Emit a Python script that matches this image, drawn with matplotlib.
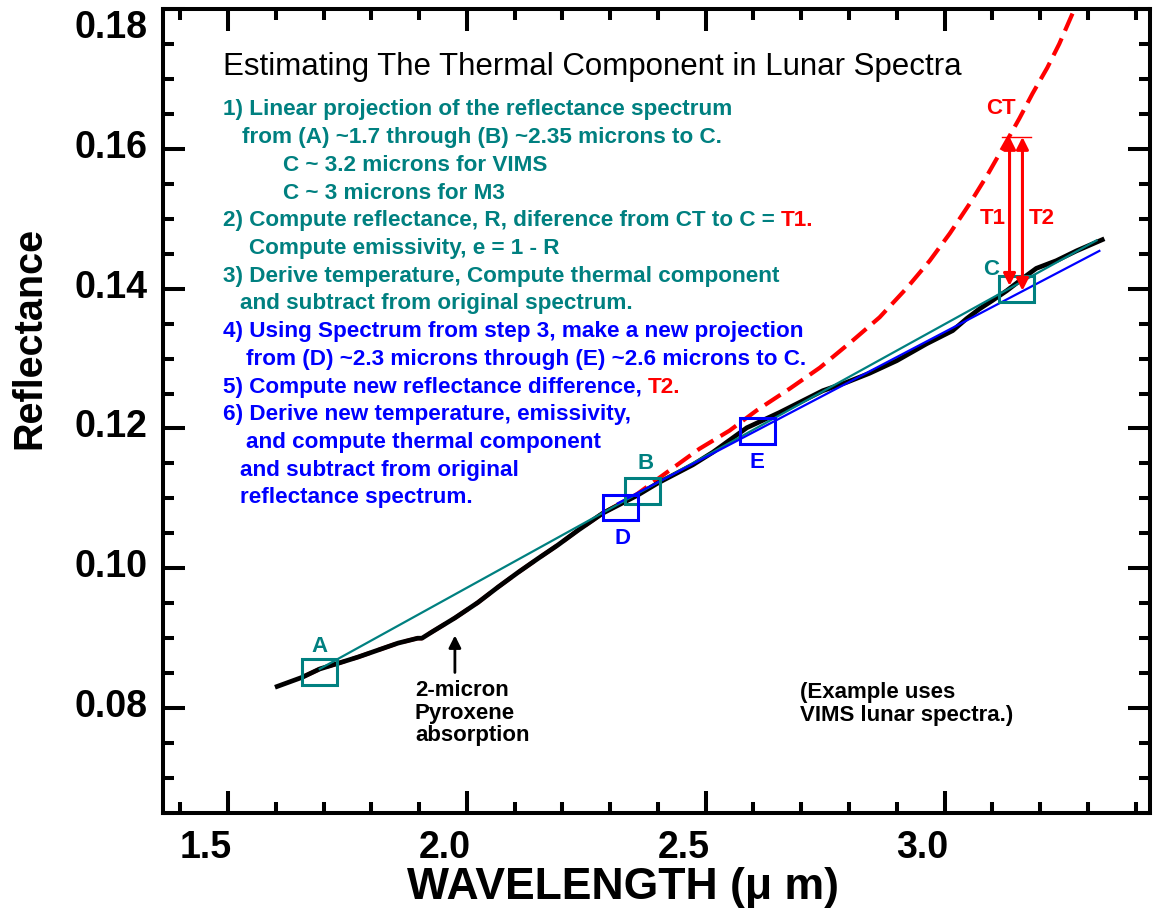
import matplotlib
matplotlib.use('Agg')
import matplotlib.pyplot as plt
from matplotlib.patches import Rectangle
from matplotlib.ticker import MultipleLocator, FormatStrFormatter
from matplotlib.transforms import ScaledTranslation

plt.rcParams['font.family'] = ['Liberation Sans', 'DejaVu Sans']
plt.rcParams['font.weight'] = 'bold'

TEAL = '#008080'
BLUE = '#0000ff'
RED = '#ff0000'

# observed lunar spectrum (black)
wave_obs = [1.603, 1.655, 1.692, 1.730, 1.772, 1.814, 1.856, 1.897, 1.906, 1.927,
            1.975, 2.023, 2.065, 2.107, 2.149, 2.190, 2.232, 2.264, 2.285, 2.356,
            2.400, 2.473, 2.515, 2.586, 2.655, 2.745, 2.795, 2.843, 2.900, 2.962,
            3.017, 3.046, 3.073, 3.100, 3.130, 3.172, 3.192, 3.234, 3.276, 3.330]
refl_obs = [0.0831, 0.0844, 0.0856, 0.0864, 0.0873, 0.0883, 0.0893, 0.0900, 0.0900, 0.0909,
            0.0929, 0.0951, 0.0973, 0.0994, 0.1014, 0.1033, 0.1054, 0.1069, 0.1079, 0.1104,
            0.1122, 0.1148, 0.1166, 0.1201, 0.1223, 0.1254, 0.1266, 0.1279, 0.1297, 0.1321,
            0.1340, 0.1357, 0.1371, 0.1383, 0.1397, 0.1419, 0.1429, 0.1440, 0.1454, 0.1470]

# spectrum with thermal component (red dashed), same as observed below ~2.35 um
wave_therm = [1.655, 1.692, 1.730, 1.772, 1.814, 1.856, 1.897, 1.906, 1.927,
              1.975, 2.023, 2.065, 2.107, 2.149, 2.190, 2.232, 2.264, 2.285, 2.356,
              2.404, 2.487, 2.550, 2.607, 2.676, 2.739, 2.808, 2.864, 2.921, 2.969,
              3.011, 3.052, 3.090, 3.130, 3.157, 3.184, 3.215, 3.240, 3.270]
refl_therm = [0.0844, 0.0856, 0.0864, 0.0873, 0.0883, 0.0893, 0.0900, 0.0900, 0.0909,
              0.0929, 0.0951, 0.0973, 0.0994, 0.1014, 0.1033, 0.1054, 0.1069, 0.1079, 0.1106,
              0.1130, 0.1171, 0.1197, 0.1226, 0.1257, 0.1287, 0.1326, 0.1359, 0.1401, 0.1440,
              0.1479, 0.1521, 0.1563, 0.1611, 0.1644, 0.1679, 0.1716, 0.1750, 0.1797]

# linear projections
proj1_wave = [1.692, 3.318]
proj1_refl = [0.0856, 0.1469]
proj2_wave = [2.316, 3.324]
proj2_refl = [0.1093, 0.1454]

# anchor boxes
box_names = ['A', 'B', 'C', 'D', 'E']
box_wave = [1.691, 2.368, 3.150, 2.322, 2.608]
box_refl = [0.0852, 0.1110, 0.1399, 0.1087, 0.1197]
box_cols = [TEAL, TEAL, TEAL, BLUE, BLUE]
box_lab_off = [(0, 18), (2, 20), (-18, 14), (1, -22), (0, -23)]

# thermal difference arrows
ct_refl = 0.1617
ct_wave = [3.121, 3.180]
t_names = ['T1', 'T2']
t_wave = [3.136, 3.163]
t_bottom = [0.1404, 0.1397]
t_lab_wave = [3.100, 3.203]
t_lab_refl = 0.150

pyrox_wave = 1.975
pyrox_tip = 0.0904
pyrox_tail = 0.0851

notes = [
    (223, [('1) Linear projection of the reflectance spectrum', TEAL)]),
    (242, [('from (A) ~1.7 through (B) ~2.35 microns to C.', TEAL)]),
    (283, [('C ~ 3.2 microns for VIMS', TEAL)]),
    (283, [('C ~ 3 microns for M3', TEAL)]),
    (223, [('2) Compute reflectance, R, diference from CT to C = ', TEAL), ('T1.', RED)]),
    (249, [('Compute emissivity, e = 1 - R', TEAL)]),
    (223, [('3) Derive temperature, Compute thermal component', TEAL)]),
    (240, [('and subtract from original spectrum.', TEAL)]),
    (223, [('4) Using Spectrum from step 3, make a new projection', BLUE)]),
    (246, [('from (D) ~2.3 microns through (E) ~2.6 microns to C.', BLUE)]),
    (223, [('5) Compute new reflectance difference, ', BLUE), ('T2.', RED)]),
    (223, [('6) Derive new temperature, emissivity,', BLUE)]),
    (246, [('and compute thermal component', BLUE)]),
    (240, [('and subtract from original', BLUE)]),
    (240, [('reflectance spectrum.', BLUE)]),
]

W, H = 1153, 913


def fx(px):
    return px / W


def fy(py):
    return 1 - py / H


fig = plt.figure(figsize=(W / 100, H / 100), dpi=100)
ax = fig.add_axes([fx(163), fy(813), (1150 - 163) / W, (813 - 9) / H])

ax.plot(wave_therm, refl_therm, color=RED, lw=3, ls=(0, (4.5, 2)), zorder=2)
ax.plot(wave_obs, refl_obs, color='black', lw=3.4, solid_joinstyle='round', zorder=3)
ax.plot(proj1_wave, proj1_refl, color=TEAL, lw=1.6, zorder=4)
ax.plot(proj2_wave, proj2_refl, color=BLUE, lw=1.6, zorder=4)

bw, bh = 0.073, 0.0037
for name, xw, yr, c, off in zip(box_names, box_wave, box_refl, box_cols, box_lab_off):
    ax.add_patch(Rectangle((xw - bw / 2, yr - bh / 2), bw, bh, fill=False,
                           ec=c, lw=2.2, zorder=5))
    ax.annotate(name, (xw, yr), xytext=off, textcoords='offset points',
                ha='center', va='center', color=c, fontsize=16)

ax.plot(ct_wave, [ct_refl, ct_refl], color=RED, lw=1, zorder=5)
ax.text(3.119, 0.1657, 'CT', color=RED, fontsize=16, ha='center', va='center')
for name, xw, yb, xl in zip(t_names, t_wave, t_bottom, t_lab_wave):
    ax.annotate('', xy=(xw, yb), xytext=(xw, ct_refl),
                arrowprops=dict(arrowstyle='<|-|>', color=RED, lw=2.2,
                                mutation_scale=18, shrinkA=0, shrinkB=0), zorder=6)
    ax.text(xl, t_lab_refl, name, color=RED, fontsize=16, ha='center', va='center')

ax.annotate('', xy=(pyrox_wave, pyrox_tip), xytext=(pyrox_wave, pyrox_tail),
            arrowprops=dict(arrowstyle='-|>', color='black', lw=2,
                            mutation_scale=18, shrinkA=0, shrinkB=0))

ax.set_xlim(1.364, 3.43)
ax.set_ylim(0.065, 0.18)
ax.xaxis.set_major_locator(MultipleLocator(0.5))
ax.xaxis.set_minor_locator(MultipleLocator(0.1))
ax.yaxis.set_major_locator(MultipleLocator(0.02))
ax.yaxis.set_minor_locator(MultipleLocator(0.005))
ax.xaxis.set_major_formatter(FormatStrFormatter('%.1f'))
ax.yaxis.set_major_formatter(FormatStrFormatter('%.2f'))
ax.tick_params(which='both', direction='in', top=True, right=True, width=2.9,
               labelsize=27)
ax.tick_params(which='major', length=16)
ax.tick_params(which='minor', length=8)
ax.tick_params(axis='x', pad=12)
ax.tick_params(axis='y', pad=11)
for sp in ax.spines.values():
    sp.set_linewidth(2.9)

# text
fig.text(fx(223), fy(75), 'Estimating The Thermal Component in Lunar Spectra',
         fontsize=22.5, fontweight='normal', color='black', va='baseline')
for i, (x0, parts) in enumerate(notes):
    yb = 108 + 27.7 * i + 7.5
    prev = fig.text(fx(x0), fy(yb), parts[0][0], color=parts[0][1], fontsize=16.2,
                    va='baseline')
    for txt, col in parts[1:]:
        prev = ax.annotate(txt, xy=(1, 0), xycoords=prev, va='bottom', ha='left',
                           color=col, fontsize=16.2)

fig.text(fx(415), fy(680), '2-micron\nPyroxene\nabsorption', fontsize=16,
         va='top', ha='left', color='black', linespacing=1.1)
fig.text(fx(800), fy(682), '(Example uses\nVIMS lunar spectra.)', fontsize=16,
         va='top', ha='left', color='black', linespacing=1.1)

fig.text(fx(623), fy(887), 'WAVELENGTH (\u03bc m)', fontsize=32, ha='center', va='center')
fig.text(fx(29), fy(338), 'Reflectance', fontsize=28.5, rotation=90,
         ha='center', va='center')

fig.canvas.draw()
for lbl in ax.get_xticklabels():
    lbl.set_transform(lbl.get_transform() + ScaledTranslation(-0.22, 0, fig.dpi_scale_trans))
for lbl in ax.get_yticklabels():
    dy = -0.15 if lbl.get_text() == '0.18' else 0.05
    lbl.set_transform(lbl.get_transform() + ScaledTranslation(0, dy, fig.dpi_scale_trans))

fig.savefig('out.png', dpi=100)
